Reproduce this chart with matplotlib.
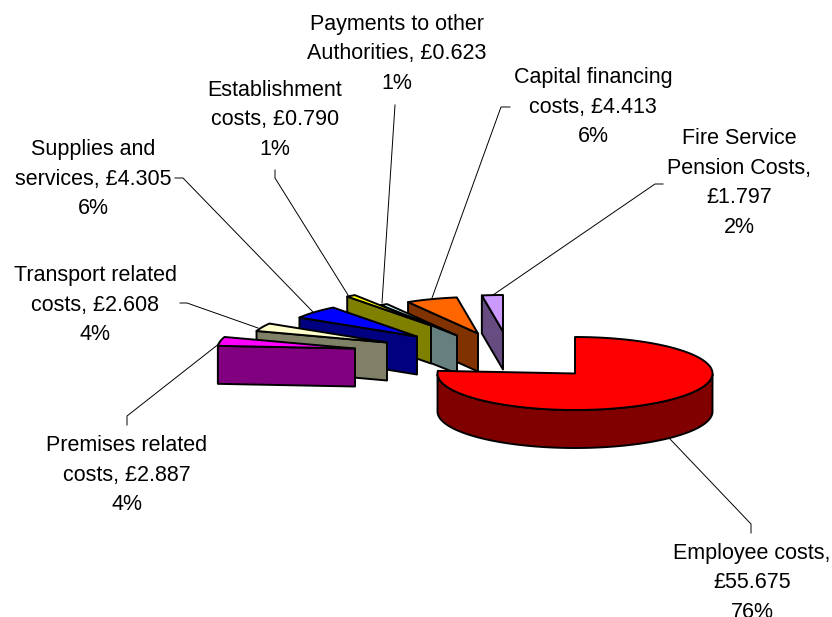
import numpy as np
import matplotlib
matplotlib.use("Agg")
import matplotlib.pyplot as plt
from matplotlib.patches import Polygon

plt.rcParams['font.family'] = ['Liberation Sans', 'DejaVu Sans']

# spending by heading, clockwise from twelve o'clock
names = ['Employee costs,', 'Premises related\ncosts,', 'Transport related\ncosts,',
         'Supplies and\nservices,', 'Establishment\ncosts,', 'Payments to other\nAuthorities,',
         'Capital financing\ncosts,', 'Fire Service\nPension Costs,']
values = [55.675, 2.887, 2.608, 4.305, 0.790, 0.623, 4.413, 1.797]
separators = ['\n', ' ', ' ', ' ', ' ', ' ', ' ', '\n']

top_colours = ['#ff0000', '#ff00ff', '#ffffcc', '#0000ff', '#ffff00', '#ccffff', '#ff6600', '#cc99ff']
side_colours = ['#800000', '#800080', '#808066', '#000080', '#808000', '#668080', '#803300', '#664c80']

# pie geometry in pixels
cx, cy = 575, 373.5
rx, ry = 137.5, 36.5
depth = 38
shift_x = [0, -220, -188, -158, -144, -118, -97, -72]
shift_y = [0, -25, -31, -37, -48, -38, -40, -42]

label_x = [752, 127, 95, 93, 275, 397, 593, 739]
label_y = [583, 475, 305, 179, 120, 54, 107, 183]

# leader lines run from the label to the slice
leaders = [
    [(751, 533), (751, 524), (670, 439)],
    [(127, 425), (127, 416), (220, 343)],
    [(180, 303), (187, 303), (258, 328)],
    [(175, 178), (183, 178), (313, 312)],
    [(275, 170), (275, 178), (348, 295)],
    [(395, 105), (382, 303)],
    [(510, 107), (501, 107), (432, 298)],
    [(663, 184), (655, 184), (493, 295)],
]

fig = plt.figure(figsize=(8.32, 6.17), dpi=100)
ax = fig.add_axes([0, 0, 1, 1])
ax.set_xlim(0, 832)
ax.set_ylim(617, 0)
ax.axis('off')

total = sum(values)
edges = np.cumsum([0] + values) / total * 2 * np.pi


def rim(x0, y0, a):
    return x0 + rx * np.sin(a), y0 - ry * np.cos(a)


# back slices first so the nearer ones cover them
for i in reversed(range(len(values))):
    x0 = cx + shift_x[i]
    y0 = cy + shift_y[i]
    a = np.linspace(edges[i], edges[i + 1], 200)
    xs, ys = rim(x0, y0, a)
    if i == 0:
        front = a[(a >= np.pi / 2) & (a <= 3 * np.pi / 2)]
        fx, fy = rim(x0, y0, front)
        side = np.r_[np.c_[fx, fy], np.c_[fx[::-1], fy[::-1] + depth]]
    else:
        ex, ey = rim(x0, y0, edges[i])
        side = [(x0, y0), (ex, ey), (ex, ey + depth), (x0, y0 + depth)]
    ax.add_patch(Polygon(side, closed=True, fc=side_colours[i], ec='black', lw=1.4, joinstyle='round'))
    top = np.r_[[[x0, y0]], np.c_[xs, ys]]
    ax.add_patch(Polygon(top, closed=True, fc=top_colours[i], ec='black', lw=1.4, joinstyle='round'))

for pts in leaders:
    pts = np.array(pts)
    ax.plot(pts[:, 0], pts[:, 1], color='black', lw=0.7, solid_joinstyle='miter')

for i in range(len(values)):
    pct = round(values[i] / total * 100)
    text = f'{names[i]}{separators[i]}£{values[i]:.3f}\n{pct}%'
    ax.text(label_x[i], label_y[i], text, ha='center', va='center', fontsize=15.5,
            linespacing=1.55, color='black')

fig.savefig('out.png', dpi=100)
